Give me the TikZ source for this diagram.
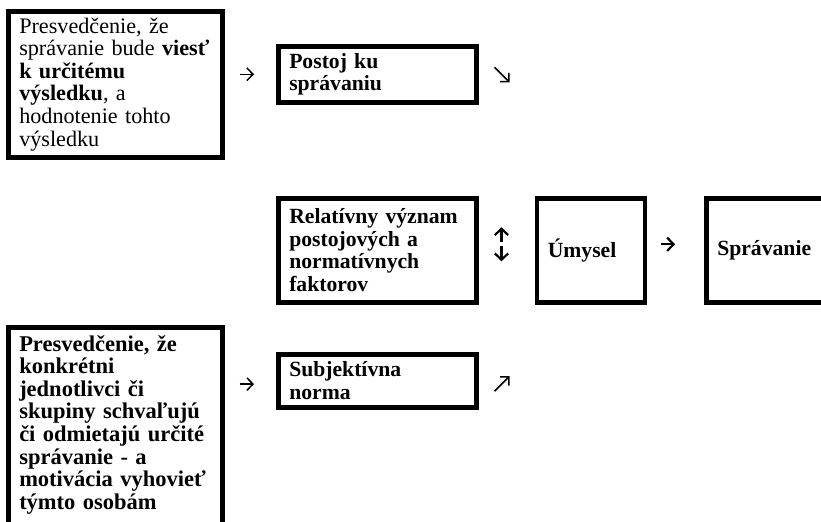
\documentclass[tikz,border=0pt]{standalone}
\usepackage{fontspec}
\setmainfont{Liberation Serif}
\usetikzlibrary{arrows.meta,positioning,calc}
\newcommand{\tpfont}{\fontsize{13pt}{13.56pt}\selectfont}
\newcommand{\tpfontwide}{\fontsize{13.5pt}{13.56pt}\selectfont}
\newcommand{\tpfontreg}{\fontsize{13.3pt}{13.56pt}\selectfont}
\tikzset{
  tpbox/.style ={draw, line width=2.7pt, align=left, anchor=north west,
                 inner xsep=6.6pt, inner ysep=0pt, font=\tpfont\bfseries},
  widebox/.style={tpbox, minimum width=128.4pt, text width=115.2pt,
                  font=\tpfontwide\bfseries},
  smallbox/.style={tpbox, minimum width=118.8pt, text width=105.6pt},
  rowarr/.style ={-{Straight Barb[length=3.6pt,width=7.5pt]}, line width=0.9pt},
  boldarr/.style={-{Straight Barb[length=3.8pt,width=8pt]}, line width=1.3pt},
}

\begin{document}
\begin{tikzpicture}
  \useasboundingbox (0,0) rectangle (492.6pt,-313.2pt);

  %% top row: attitude
  \node[widebox, minimum height=87.6pt, font=\tpfontreg] (belief1) at (3.6pt,-5.4pt)
        {Presvedčenie, že\\ správanie bude \textbf{viesť}\\ \textbf{k určitému}\\
         \textbf{výsledku}, a\\ hodnotenie tohto\\ výsledku};
  \node[smallbox, minimum height=33.6pt] (attitude) at (165.6pt,-26.4pt)
        {Postoj ku\\ správaniu};

  %% middle row
  \node[smallbox, minimum height=62.4pt] (weight) at (165.6pt,-117.6pt)
        {Relatívny význam\\ postojových a\\ normatívnych\\ faktorov};
  \node[tpbox, right=33.6pt of weight, minimum width=64.8pt, text width=51.6pt,
        minimum height=62.4pt] (intention) {Úmysel};
  \node[tpbox, right=34.2pt of intention, minimum width=78.6pt, text width=65.4pt,
        minimum height=62.4pt] (behavior) {Správanie};

  %% bottom row: subjective norm
  \node[widebox, inner ysep=4.8pt] (belief2) at (3.6pt,-195pt)
        {Presvedčenie, že\\ konkrétni\\ jednotlivci či\\ skupiny schvaľujú\\
         či odmietajú určité\\ správanie - a\\ motivácia vyhovieť\\
         týmto osobám\rule[-12pt]{0pt}{12pt}};
  \node[smallbox, minimum height=31.8pt] (subjnorm) at (165.6pt,-211.2pt)
        {Subjektívna\\ norma};

  %% free ends of the diagonal arrows
  \coordinate (attout)  at ([shift={(18.6pt,-4.8pt)}]attitude.east);
  \coordinate (normout) at ([shift={(18.6pt,2.7pt)}]subjnorm.east);

  \draw[rowarr, shorten <=9pt, shorten >=13.2pt]
        (belief1.east |- attitude.west) -- (attitude.west);
  \draw[rowarr] ([shift={(9.6pt,4.2pt)}]attitude.east) -- (attout);
  \draw[rowarr, shorten <=9pt, shorten >=13.2pt]
        ($(belief2.east |- subjnorm.west)+(0,-2pt)$) -- ($(subjnorm.west)+(0,-2pt)$);
  \draw[rowarr] ([shift={(9.6pt,-6.3pt)}]subjnorm.east) -- (normout);
  \draw[boldarr] ([shift={(13.8pt,4.8pt)}]weight.east)
        -- ([shift={(13.8pt,13.8pt)}]weight.east);
  \draw[boldarr] ([shift={(13.8pt,2.4pt)}]weight.east)
        -- ([shift={(13.8pt,-6.6pt)}]weight.east);
  \draw[boldarr, shorten <=8.4pt, shorten >=17.4pt]
        ($(intention.east)+(0,3.6pt)$) -- ($(behavior.west)+(0,3.6pt)$);
\end{tikzpicture}
\end{document}
